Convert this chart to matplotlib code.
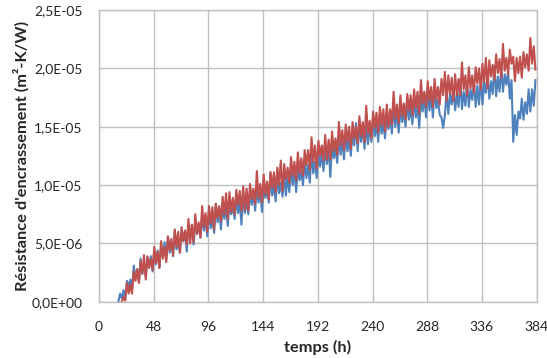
import numpy as np
import matplotlib.pyplot as plt
from matplotlib.ticker import FuncFormatter

# fouling resistance, units of 1e-6 m2-K/W, one sample every 1.5 h
BLUE_T0 = 17.0
RED_T0 = 20.0
STEP_H = 1.5

blue_vals = [
    0.0, 0.7, 0.3, 1.0, 0.2, 1.8, 1.3, 1.9, 1.2, 3.1,
    2.0, 2.8, 1.7, 3.7, 2.4, 3.4, 2.2, 3.8, 3.0, 3.9,
    2.6, 4.4, 3.2, 4.4, 2.9, 4.9, 3.9, 5.1, 3.6, 5.6,
    4.2, 5.1, 3.9, 6.1, 4.5, 5.2, 4.2, 6.2, 5.2, 6.1,
    4.3, 6.6, 5.5, 6.6, 4.9, 6.9, 5.9, 6.5, 5.5, 7.5,
    6.1, 7.0, 5.6, 7.7, 6.3, 7.1, 5.9, 8.4, 6.8, 7.8,
    6.2, 8.3, 7.1, 8.1, 6.5, 8.5, 7.5, 8.2, 7.1, 9.0,
    7.6, 8.6, 6.6, 9.3, 7.6, 8.7, 7.5, 9.4, 8.3, 9.3,
    7.8, 9.8, 8.5, 9.6, 7.7, 10.0, 8.9, 9.6, 8.5, 11.1,
    9.1, 10.0, 8.6, 10.8, 9.3, 10.2, 9.0, 10.9, 9.1, 10.9,
    9.4, 11.4, 10.0, 11.2, 9.4, 11.6, 10.4, 11.2, 10.0, 12.1,
    10.6, 11.7, 10.2, 13.1, 11.0, 12.0, 10.6, 12.8, 11.6, 12.8,
    11.2, 13.2, 11.8, 13.2, 10.7, 13.5, 12.3, 13.2, 11.9, 14.2,
    12.6, 13.8, 12.2, 14.5, 12.9, 13.9, 12.5, 14.7, 13.4, 15.3,
    12.9, 15.2, 13.7, 15.0, 13.1, 15.3, 13.5, 15.0, 13.7, 15.8,
    14.2, 15.3, 13.7, 16.0, 14.4, 15.3, 14.0, 16.0, 14.8, 16.0,
    14.4, 17.0, 15.0, 16.3, 14.5, 16.7, 15.4, 16.3, 15.0, 17.2,
    15.6, 16.7, 15.2, 17.5, 15.8, 16.8, 14.9, 17.5, 16.3, 17.5,
    15.8, 17.9, 16.4, 17.6, 15.8, 18.4, 16.6, 17.3, 16.0, 15.8,
    14.9, 16.0, 18.0, 16.1, 17.8, 16.9, 18.4, 16.4, 17.8, 16.7,
    19.0, 16.5, 18.0, 16.8, 18.8, 16.7, 18.2, 17.3, 18.8, 16.7,
    18.5, 16.9, 19.2, 16.9, 18.8, 17.9, 19.5, 17.4, 18.9, 17.8,
    20.2, 17.6, 19.3, 18.0, 20.1, 18.0, 19.5, 18.6, 19.7, 17.4,
    19.0, 13.7, 16.0, 14.3, 16.3, 15.7, 17.4, 15.6, 17.1, 16.1,
    18.2, 16.3, 18.2, 16.8, 19.0,
]

red_vals = [
    0.0, 0.4, 0.1, 1.6, 0.7, 1.5, 0.7, 2.6, 1.8, 2.8,
    1.6, 3.5, 2.4, 4.0, 1.9, 3.9, 2.9, 3.7, 2.7, 4.7,
    3.3, 4.3, 2.9, 5.2, 3.7, 4.7, 3.4, 5.6, 4.4, 5.4,
    4.0, 6.2, 4.7, 6.0, 4.2, 6.4, 5.2, 6.1, 4.9, 7.1,
    5.0, 6.6, 5.1, 7.5, 5.8, 6.8, 5.5, 8.2, 6.4, 7.6,
    6.0, 8.2, 6.7, 8.1, 6.2, 8.4, 7.2, 8.2, 6.9, 9.0,
    7.5, 9.3, 7.1, 9.4, 7.7, 8.9, 7.5, 9.6, 8.3, 9.5,
    7.8, 9.9, 7.9, 9.7, 7.8, 10.1, 8.8, 9.7, 8.4, 11.2,
    8.9, 10.1, 8.5, 10.9, 9.2, 10.3, 8.8, 11.1, 9.8, 11.1,
    9.4, 11.5, 10.0, 12.1, 9.5, 11.8, 10.5, 11.5, 10.2, 12.4,
    10.8, 12.0, 10.4, 12.8, 11.0, 12.3, 10.8, 13.0, 11.7, 13.0,
    11.3, 14.1, 12.0, 13.4, 11.4, 13.8, 12.5, 13.4, 12.1, 14.3,
    12.2, 13.9, 12.2, 14.6, 12.9, 14.0, 12.6, 15.4, 13.4, 14.7,
    13.0, 15.2, 13.7, 15.0, 13.1, 15.4, 14.0, 15.0, 13.6, 15.9,
    14.2, 15.4, 13.7, 16.8, 14.4, 15.5, 14.0, 16.3, 14.9, 16.2,
    14.5, 16.7, 15.1, 16.5, 14.6, 16.9, 15.0, 16.5, 15.2, 18.0,
    15.7, 16.9, 15.3, 17.7, 15.9, 17.0, 15.6, 17.8, 16.4, 17.7,
    16.0, 18.2, 16.6, 18.0, 16.1, 19.0, 17.0, 18.0, 16.7, 18.9,
    17.2, 18.4, 16.7, 19.1, 17.3, 18.4, 16.9, 19.1, 17.7, 19.7,
    17.2, 19.4, 17.8, 19.2, 17.2, 19.5, 17.7, 19.1, 17.7, 20.5,
    18.2, 19.4, 17.7, 20.1, 18.3, 19.4, 17.9, 20.1, 18.7, 20.0,
    18.2, 20.4, 18.8, 20.9, 18.3, 20.7, 19.3, 20.3, 19.0, 21.2,
    19.6, 20.8, 19.2, 22.1, 19.8, 20.9, 19.5, 21.6, 20.4, 21.0,
    18.9, 20.9, 19.6, 21.0, 19.2, 21.4, 20.1, 21.2, 19.8, 22.6,
    20.4, 21.9, 19.9,
]

x_ticks = [0, 48, 96, 144, 192, 240, 288, 336, 384]
y_ticks = [0.0, 5e-6, 1e-5, 1.5e-5, 2e-5, 2.5e-5]

BLUE = "#4f81bd"
RED = "#c0504d"
GRID = "#bfbfbf"
TXT = "#262626"

plt.rcParams["font.family"] = ["Lato", "DejaVu Sans"]

blue_y = np.array(blue_vals) * 1e-6
red_y = np.array(red_vals) * 1e-6
blue_t = BLUE_T0 + STEP_H * np.arange(len(blue_y))
red_t = RED_T0 + STEP_H * np.arange(len(red_y))

fig = plt.figure(figsize=(5.47, 3.58), dpi=100)
ax = fig.add_axes([0.181, 0.157, 0.800, 0.815])

ax.plot(blue_t, blue_y, color=BLUE, lw=1.5)
ax.plot(red_t, red_y, color=RED, lw=1.5)

ax.set_xlim(0, 384)
ax.set_ylim(0, 2.5e-5)
ax.set_xticks(x_ticks)
ax.set_yticks(y_ticks)
ax.yaxis.set_major_formatter(FuncFormatter(lambda v, p: f"{v:.1E}".replace(".", ",")))
ax.grid(True, color=GRID, lw=1.0)
ax.set_axisbelow(True)
for s in ax.spines.values():
    s.set_color(GRID)
    s.set_linewidth(1.0)
ax.tick_params(length=0, labelsize=10, colors=TXT, pad=14)
ax.tick_params(axis="y", pad=12)

ax.set_xlabel("temps (h)", fontsize=11.8, fontweight="bold", color=TXT, labelpad=5)
ax.set_ylabel("Résistance d'encrassement (m²-K/W)", fontsize=11.8, fontweight="bold",
              color=TXT, labelpad=1.5)

fig.savefig("out.png", dpi=100)
